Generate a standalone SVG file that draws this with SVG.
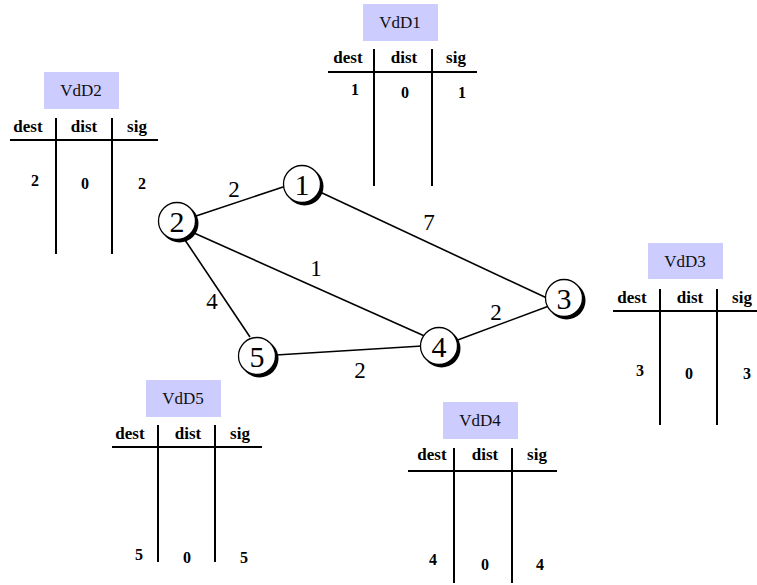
<svg xmlns="http://www.w3.org/2000/svg" width="757" height="585" viewBox="0 0 757 585" font-family="Liberation Serif, DejaVu Serif, Noto Serif, Times New Roman, serif">
  <style>
    .lbl { fill: #ccccff; }
    .lbltxt { font-size: 17px; fill: #111; text-anchor: middle; }
    .hdr { font-size: 17px; font-weight: bold; fill: #000; text-anchor: middle; }
    .val { font-size: 16px; font-weight: bold; fill: #000; text-anchor: middle; }
    .rule { stroke: #000; stroke-width: 2; fill: none; }
    .edge { stroke: #000; stroke-width: 1.6; fill: none; }
    .w { font-size: 23px; fill: #000; text-anchor: middle; }
    .shadow { fill: #000; }
    .disc { fill: #fff; stroke: #000; stroke-width: 1.3; }
    .ntxt { font-size: 30px; fill: #000; text-anchor: middle; }
  </style>

  <!-- links between routers -->
  <g id="connectors">
    <line class="edge" x1="196" y1="216" x2="286" y2="186"/>
    <line class="edge" x1="320" y1="192" x2="549" y2="299"/>
    <line class="edge" x1="194" y1="233" x2="429" y2="338"/>
    <line class="edge" x1="185" y1="240" x2="250" y2="337"/>
    <line class="edge" x1="276" y1="355" x2="422" y2="346"/>
    <line class="edge" x1="455" y1="341" x2="549" y2="306"/>
    <text class="w" x="234" y="197">2</text>
    <text class="w" x="429" y="230">7</text>
    <text class="w" x="316" y="276">1</text>
    <text class="w" x="212" y="309">4</text>
    <text class="w" x="496" y="320">2</text>
    <text class="w" x="360" y="378">2</text>
  </g>

  <!-- routers -->
  <g id="node1">
    <circle class="shadow" cx="304.5" cy="186.5" r="19"/>
    <circle class="disc" cx="302" cy="184" r="18.5"/>
    <text class="ntxt" x="302" y="195">1</text>
  </g>
  <g id="node2">
    <circle class="shadow" cx="179.5" cy="223.5" r="19"/>
    <circle class="disc" cx="177" cy="221" r="18.5"/>
    <text class="ntxt" x="177" y="232">2</text>
  </g>
  <g id="node3">
    <circle class="shadow" cx="566.5" cy="300.5" r="19"/>
    <circle class="disc" cx="564" cy="298" r="18.5"/>
    <text class="ntxt" x="564" y="309">3</text>
  </g>
  <g id="node4">
    <circle class="shadow" cx="441.5" cy="348.5" r="19"/>
    <circle class="disc" cx="439" cy="346" r="18.5"/>
    <text class="ntxt" x="439" y="357">4</text>
  </g>
  <g id="node5">
    <circle class="shadow" cx="259.5" cy="358.5" r="19"/>
    <circle class="disc" cx="257" cy="356" r="18.5"/>
    <text class="ntxt" x="257" y="367">5</text>
  </g>

  <!-- distance-vector tables -->
  <g id="table1">
    <rect class="lbl" x="363" y="4" width="75" height="37"/>
    <text class="lbltxt" x="400" y="28">VdD1</text>
    <text class="hdr" x="348" y="63">dest</text>
    <text class="hdr" x="404" y="63">dist</text>
    <text class="hdr" x="456" y="63">sig</text>
    <line class="rule" x1="328" y1="72" x2="477" y2="72"/>
    <line class="rule" x1="374" y1="49" x2="374" y2="186"/>
    <line class="rule" x1="432" y1="49" x2="432" y2="186"/>
    <text class="val" x="355" y="95">1</text>
    <text class="val" x="405" y="98">0</text>
    <text class="val" x="462" y="98">1</text>
  </g>

  <g id="table2">
    <rect class="lbl" x="44" y="72" width="75" height="37"/>
    <text class="lbltxt" x="81" y="96">VdD2</text>
    <text class="hdr" x="28" y="132">dest</text>
    <text class="hdr" x="84" y="132">dist</text>
    <text class="hdr" x="137" y="132">sig</text>
    <line class="rule" x1="10" y1="140" x2="158" y2="140"/>
    <line class="rule" x1="56" y1="118" x2="56" y2="254"/>
    <line class="rule" x1="112" y1="118" x2="112" y2="254"/>
    <text class="val" x="35" y="186">2</text>
    <text class="val" x="85" y="189">0</text>
    <text class="val" x="142" y="189">2</text>
  </g>

  <g id="table3">
    <rect class="lbl" x="648" y="243" width="75" height="36"/>
    <text class="lbltxt" x="685" y="267">VdD3</text>
    <text class="hdr" x="632" y="303">dest</text>
    <text class="hdr" x="690" y="303">dist</text>
    <text class="hdr" x="742" y="303">sig</text>
    <line class="rule" x1="613" y1="311" x2="757" y2="311"/>
    <line class="rule" x1="660" y1="289" x2="660" y2="425"/>
    <line class="rule" x1="717" y1="289" x2="717" y2="425"/>
    <text class="val" x="640" y="376">3</text>
    <text class="val" x="689" y="379">0</text>
    <text class="val" x="747" y="379">3</text>
  </g>

  <g id="table4">
    <rect class="lbl" x="443" y="402" width="75" height="37"/>
    <text class="lbltxt" x="480" y="426">VdD4</text>
    <text class="hdr" x="432" y="460">dest</text>
    <text class="hdr" x="485" y="460">dist</text>
    <text class="hdr" x="537" y="460">sig</text>
    <line class="rule" x1="408" y1="471" x2="557" y2="471"/>
    <line class="rule" x1="454" y1="448" x2="454" y2="583"/>
    <line class="rule" x1="512" y1="448" x2="512" y2="583"/>
    <text class="val" x="433" y="565">4</text>
    <text class="val" x="485" y="570">0</text>
    <text class="val" x="540" y="570">4</text>
  </g>

  <g id="table5">
    <rect class="lbl" x="146" y="380" width="75" height="37"/>
    <text class="lbltxt" x="183" y="404">VdD5</text>
    <text class="hdr" x="130" y="439">dest</text>
    <text class="hdr" x="188" y="439">dist</text>
    <text class="hdr" x="240" y="439">sig</text>
    <line class="rule" x1="112" y1="447" x2="262" y2="447"/>
    <line class="rule" x1="158" y1="425" x2="158" y2="562"/>
    <line class="rule" x1="215" y1="425" x2="215" y2="562"/>
    <text class="val" x="139" y="560">5</text>
    <text class="val" x="187" y="563">0</text>
    <text class="val" x="244" y="563">5</text>
  </g>
</svg>
